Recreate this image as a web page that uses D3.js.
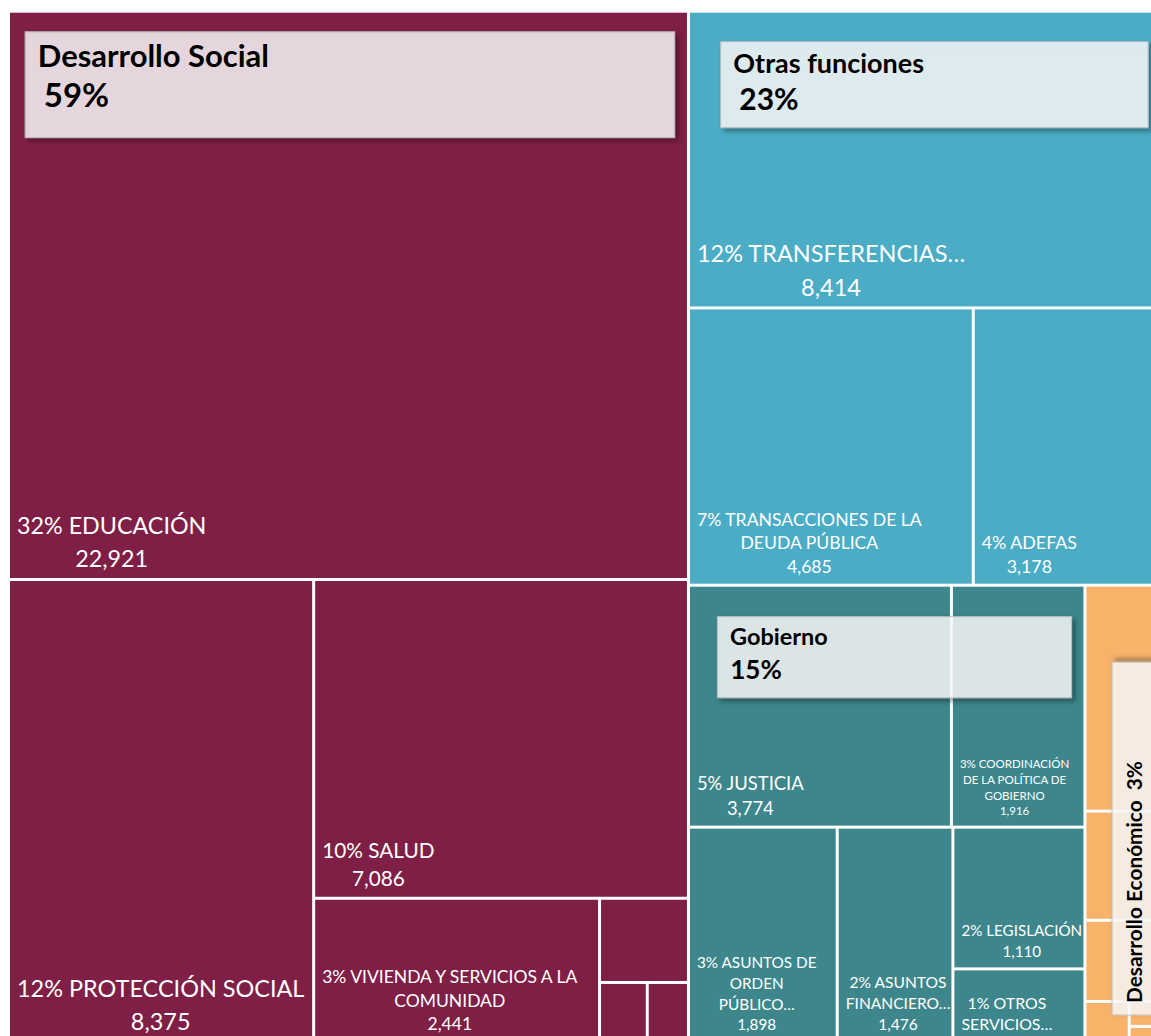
<!DOCTYPE html>
<html>
<head>
<meta charset="utf-8">
<script src="https://cdn.jsdelivr.net/npm/d3@7"></script>
<style>
html, body { margin: 0; padding: 0; overflow: hidden; background: #fff; }
svg { display: block; }
</style>
</head>
<body>
<svg id="chart"></svg>
<script>
// grupos (funciones)
const groupNames = ["Desarrollo Social", "Otras funciones", "Gobierno", "Desarrollo Económico"]
const groupColors = ["#7f1f45", "#4bacc6", "#3d868b", "#f8b26a"]

// subfunciones, millones de pesos
const socialNames = ["EDUCACIÓN", "PROTECCIÓN SOCIAL", "SALUD", "VIVIENDA Y SERVICIOS A LA COMUNIDAD",
    "RECREACIÓN, CULTURA Y OTRAS MANIFESTACIONES SOCIALES", "PROTECCIÓN AMBIENTAL", "OTROS ASUNTOS SOCIALES"]
const socialValues = [22921, 8375, 7086, 2441, 444, 169, 146]

const otherNames = ["TRANSFERENCIAS…", "TRANSACCIONES DE LA DEUDA PÚBLICA", "ADEFAS"]
const otherValues = [8414, 4685, 3178]

const govNames = ["JUSTICIA", "COORDINACIÓN DE LA POLÍTICA DE GOBIERNO", "ASUNTOS DE ORDEN PÚBLICO…",
    "ASUNTOS FINANCIERO…", "LEGISLACIÓN", "OTROS SERVICIOS…"]
const govValues = [3774, 1916, 1898, 1476, 1110, 574]

const econNames = ["TRANSPORTE", "AGROPECUARIA, SILVICULTURA, PESCA Y CAZA", "ASUNTOS ECONÓMICOS, COMERCIALES Y LABORALES",
    "CIENCIA, TECNOLOGÍA E INNOVACIÓN", "TURISMO", "OTRAS INDUSTRIAS"]
const econValues = [1093, 528, 393, 107, 55, 35]

const childNames = [socialNames, otherNames, govNames, econNames]
const childValues = [socialValues, otherValues, govValues, econValues]

// ---------------------------------------------------------
const W = 1151, H = 1036
const tmX = 10, tmY = 12.7, tmW = 1155, tmH = 1028
const font = "Lato, 'Open Sans', sans-serif"

const svg = d3.select("#chart").attr("width", W).attr("height", H)

const defs = svg.append("defs")
const shadow = defs.append("filter").attr("id", "shadow")
    .attr("x", "-10%").attr("y", "-20%").attr("width", "130%").attr("height", "160%")
shadow.append("feDropShadow")
    .attr("dx", 3).attr("dy", 3).attr("stdDeviation", 2.5)
    .attr("flood-color", "#000").attr("flood-opacity", 0.45)

const rootData = {
    name: "root",
    children: groupNames.map((g, i) => ({
        name: g,
        idx: i,
        children: childNames[i].map((n, j) => ({ name: n, value: childValues[i][j] }))
    }))
}

const root = d3.hierarchy(rootData)
    .sum(d => d.value)
    .sort((a, b) => b.value - a.value)

d3.treemap()
    .tile(d3.treemapSquarify.ratio(1))
    .size([tmW, tmH])
    .paddingInner(3)
    (root)

const total = root.value
const fmtVal = d3.format(",")
const fmtPct = v => Math.round(v / total * 100) + "%"

const g = svg.append("g").attr("transform", `translate(${tmX},${tmY})`)

const measurer = svg.append("text").attr("visibility", "hidden").attr("font-family", font)
function textWidth(str, size, weight) {
    measurer.attr("font-size", size).attr("font-weight", weight || 400).text(str)
    return measurer.node().getComputedTextLength()
}

const leaves = root.leaves()

g.selectAll("rect.cell")
    .data(leaves)
    .enter().append("rect")
    .attr("class", "cell")
    .attr("x", d => d.x0)
    .attr("y", d => d.y0)
    .attr("width", d => d.x1 - d.x0)
    .attr("height", d => d.y1 - d.y0)
    .attr("fill", d => groupColors[d.parent.data.idx])

// leaf labels, font size follows the value
const fsScale = d3.scaleLinear()
    .domain([500, 1110, 1500, 1900, 2441, 3178, 3774, 4685, 7086, 8400, 23000])
    .range([16, 15.2, 15.6, 15.3, 17.5, 17.8, 18.4, 17.6, 20.8, 23.5, 23.3])
    .clamp(true)
const labelLayer = g.append("g").attr("font-family", font).attr("fill", "#fff")

leaves.forEach(d => {
    const w = d.x1 - d.x0, h = d.y1 - d.y0
    if (w < 100 || h < 40) return
    let fs = fsScale(d.value)
    const words = (fmtPct(d.value) + " " + d.data.name).split(" ")
    const first = words.shift() + " " + words.shift()
    const firstW = textWidth(first, fs)
    if (firstW > w - 6) fs = fs * (w - 21) / firstW
    const avail = w - 14
    const lh = fs * 1.35 + Math.max(0, fs - 20) * 0.5

    // first line keeps the percent with the first word; a cut word opens its own line
    let lines = [], cur = first
    words.forEach(wd => {
        const t = cur + " " + wd
        if (wd.endsWith("…") || textWidth(t, fs) > avail + 0.5) {
            lines.push(cur)
            cur = wd
        } else {
            cur = t
        }
    })
    lines.push(cur)
    lines.push(fmtVal(d.value))
    const maxLines = Math.floor((h - 16) / lh)
    if (lines.length > maxLines) {
        lines.pop()
        lines = lines.slice(0, maxLines)
    }
    const blockW = d3.max(lines, l => textWidth(l, fs))
    const cx = d.x0 + 7 + blockW / 2
    const baseY = d.y1 - 10.5
    lines.forEach((l, i) => {
        labelLayer.append("text")
            .attr("x", cx)
            .attr("y", baseY - (lines.length - 1 - i) * lh)
            .attr("text-anchor", "middle")
            .attr("font-size", fs)
            .text(l)
    })
})

// group label boxes, sized by share of the total
const shareDom = [3, 15, 23, 59]
const insetLeft = d3.scaleLinear().domain(shareDom).range([25.7, 27.4, 30.7, 15]).clamp(true)
const insetTop = d3.scaleLinear().domain(shareDom).range([25.7, 30, 29, 19]).clamp(true)
const lenFrac = d3.scaleLinear().domain(shareDom).range([0.776, 0.9, 0.9, 0.96]).clamp(true)
const boxH = d3.scaleLinear().domain(shareDom).range([62, 81, 86, 106]).clamp(true)
const titleFs = d3.scaleLinear().domain(shareDom).range([20.8, 23.4, 27, 31]).clamp(true)
const pctFs = d3.scaleLinear().domain(shareDom).range([20.8, 26, 30, 33]).clamp(true)
const titleBase = d3.scaleLinear().domain(shareDom).range([30, 28.3, 31.6, 35]).clamp(true)
const pctBase = d3.scaleLinear().domain(shareDom).range([62, 62.3, 68.3, 75.6]).clamp(true)
const pctDx = d3.scaleLinear().domain(shareDom).range([0, 0, 6, 6]).clamp(true)

const boxLayer = g.append("g").attr("font-family", font)

root.children.forEach(grp => {
    const w = grp.x1 - grp.x0, h = grp.y1 - grp.y0
    const share = grp.value / total * 100
    const rotated = w < 150
    const len = rotated ? h : w
    const gg = boxLayer.append("g")
        .attr("transform", rotated
            ? `translate(${grp.x0},${grp.y1}) rotate(-90)`
            : `translate(${grp.x0},${grp.y0})`)
    const bx = insetLeft(share), by = insetTop(share)
    gg.append("rect")
        .attr("x", bx)
        .attr("y", by)
        .attr("width", len * lenFrac(share))
        .attr("height", boxH(share))
        .attr("fill", "#fff")
        .attr("fill-opacity", 0.78)
        .attr("stroke", "#bdbdbd")
        .attr("stroke-width", 1)
        .attr("filter", "url(#shadow)")
    if (rotated) {
        gg.append("text")
            .attr("x", bx + 12)
            .attr("y", by + titleBase(share))
            .attr("font-size", titleFs(share))
            .attr("font-weight", 700)
            .attr("fill", "#000")
            .attr("xml:space", "preserve")
            .text(grp.data.name + "  " + fmtPct(grp.value))
    } else {
        gg.append("text")
            .attr("x", bx + 12.7)
            .attr("y", by + titleBase(share))
            .attr("font-size", titleFs(share))
            .attr("font-weight", 700)
            .attr("fill", "#000")
            .text(grp.data.name)
        gg.append("text")
            .attr("x", bx + 12.7 + pctDx(share))
            .attr("y", by + pctBase(share))
            .attr("font-size", pctFs(share))
            .attr("font-weight", 700)
            .attr("fill", "#000")
            .text(fmtPct(grp.value))
    }
})

measurer.remove()
</script>
</body>
</html>
